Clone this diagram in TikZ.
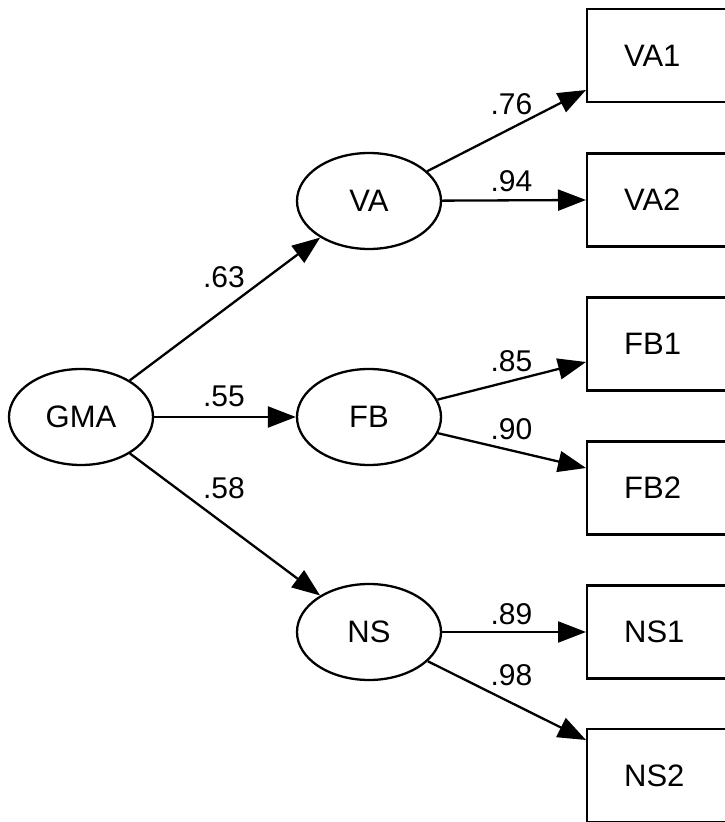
\documentclass[tikz,border=0pt]{standalone}
\usepackage{fontspec}
\setmainfont{Liberation Sans}
\usetikzlibrary{arrows.meta,shapes.geometric}
\begin{document}
\begin{tikzpicture}[x=1pt,y=1pt,
  font=\fontsize{31}{37}\selectfont,
  latent/.style={draw,line width=2.3pt,ellipse,minimum width=144pt,minimum height=96pt,inner sep=0pt},
  obs/.style={draw,line width=2.3pt,rectangle,anchor=west,minimum height=93pt,inner xsep=37pt,text width=120pt,align=left},
  path/.style={line width=2.3pt,-{Triangle[length=28pt,width=21pt]}},
  coef/.style={anchor=base,inner sep=0pt,font=\fontsize{30}{35}\selectfont}]
\useasboundingbox (0,0) rectangle (725,822);
\clip (0,0) rectangle (725,822);
\node[latent] (GMA) at (81,405) {GMA};
\node[latent] (VA) at (369,621) {VA};
\node[latent] (FB) at (369,405) {FB};
\node[latent] (NS) at (369,190) {NS};
\node[obs] (VA1) at (586,766.5) {VA1};
\node[obs] (VA2) at (586,622) {VA2};
\node[obs] (FB1) at (586,478) {FB1};
\node[obs] (FB2) at (586,334) {FB2};
\node[obs] (NS1) at (586,190) {NS1};
\node[obs] (NS2) at (586,46.5) {NS2};
\draw[path] (GMA) -- (VA);
\draw[path] (GMA) -- (FB);
\draw[path] (GMA) -- (NS);
\draw[path] (VA) -- ([yshift=-34.5pt]VA1.west);
\draw[path] (VA) -- (VA2.west);
\draw[path] (FB) -- ([yshift=-18pt]FB1.west);
\draw[path] (FB) -- ([yshift=20pt]FB2.west);
\draw[path] (NS) -- (NS1.west);
\draw[path] (NS) -- ([yshift=35.5pt]NS2.west);
\node[coef] (c1) at (224,534) {.63};
\node[coef] (c2) at (224,415) {.55};
\node[coef] (c3) at (224,323) {.58};
\node[coef] (c4) at (511.5,707) {.76};
\node[coef] (c5) at (511.5,630) {.94};
\node[coef] (c6) at (511.5,450) {.85};
\node[coef] (c7) at (511.5,382) {.90};
\node[coef] (c8) at (511.5,197) {.89};
\node[coef] (c9) at (511.5,136) {.98};
\end{tikzpicture}
\end{document}
